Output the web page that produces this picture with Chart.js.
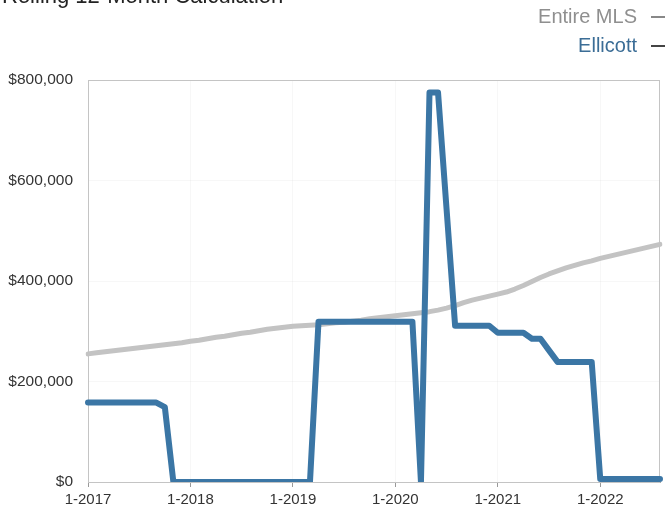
<!DOCTYPE html>
<html>
<head>
<meta charset="utf-8">
<script src="https://cdn.jsdelivr.net/npm/chart.js@4/dist/chart.umd.min.js"></script>
<style>
  html, body { margin: 0; padding: 0; background: #fff; }
  #wrap { position: relative; width: 670px; height: 507px; overflow: hidden;
          font-family: "Liberation Sans", Arial, sans-serif; }
  #title { position: absolute; left: 2px; top: -15px; font-size: 22px; line-height: 22px;
           color: #222; white-space: nowrap; }
  #legend { position: absolute; right: 5px; top: 2px; }
  .item { display: flex; align-items: center; justify-content: flex-end; height: 29px; font-size: 20px; }
  .dash { display: inline-block; width: 14px; height: 2px; margin-left: 14px; }
  canvas { position: absolute; left: 0; top: 0; }
</style>
</head>
<body>
<div id="wrap">
  <canvas id="c" width="670" height="507"></canvas>
  <div id="title">Rolling 12-Month Calculation</div>
  <div id="legend"></div>
</div>
<script>
// Monthly periods, January 2017 through August 2022
const startYear = 2017;
const monthCount = 68;
const months = [];
for (let i = 0; i < monthCount; i++) {
  months.push(((i % 12) + 1) + '-' + (startYear + Math.floor(i / 12)));
}

// Rolling 12-month median sales price
const entireMLS = [
  255000, 257000, 259000, 261000, 263000, 265000, 267000, 269000, 271000, 273000, 275000, 277000,
  280000, 282000, 285000, 288000, 290000, 293000, 296000, 298000, 301000, 304000, 306000, 308000,
  310000, 311000, 312000, 313000, 315000, 317000, 318000, 320000, 322000, 325000, 327000, 329000,
  331000, 333000, 335000, 337000, 339000, 342000, 346000, 351000, 357000, 362000, 366000, 370000,
  374000, 378000, 384000, 391000, 399000, 407000, 414000, 420000, 426000, 431000, 436000, 440000,
  445000, 449000, 453000, 457000, 461000, 465000, 469000, 473000
];
const ellicott = [
  158000, 158000, 158000, 158000, 158000, 158000, 158000, 158000, 158000, 149000, 0, 0,
  0, 0, 0, 0, 0, 0, 0, 0, 0, 0, 0, 0,
  0, 0, 0, 319000, 319000, 319000, 319000, 319000, 319000, 319000, 319000, 319000,
  319000, 319000, 319000, 0, 775000, 775000, 543000, 311000, 311000, 311000, 311000, 311000,
  297000, 297000, 297000, 297000, 285000, 285000, 262000, 239000, 239000, 239000, 239000, 239000,
  6000, 6000, 6000, 6000, 6000, 6000, 6000, 6000
];
const yTicks = [0, 200000, 400000, 600000, 800000];

const seriesNames = ['Entire MLS', 'Ellicott'];
const lineColors = ['#c3c3c3', '#3b76a5'];
const legendTextColors = ['#8f8f8f', '#3b6d96'];
const dashColors = ['#888', '#444'];

// Legend: label text followed by a short rule, right aligned
const legend = document.getElementById('legend');
seriesNames.forEach((name, k) => {
  const row = document.createElement('div');
  row.className = 'item';
  const txt = document.createElement('span');
  txt.textContent = name;
  txt.style.color = legendTextColors[k];
  const dash = document.createElement('span');
  dash.className = 'dash';
  dash.style.background = dashColors[k];
  row.appendChild(txt);
  row.appendChild(dash);
  legend.appendChild(row);
});

// Light frame around the plot area
const frame = {
  id: 'frame',
  beforeDatasetsDraw(chart) {
    const { ctx, chartArea: a } = chart;
    ctx.save();
    ctx.strokeStyle = '#c4c4c4';
    ctx.lineWidth = 1;
    ctx.strokeRect(Math.round(a.left) + 0.5, Math.round(a.top) + 0.5,
                   Math.round(a.right - a.left) - 1, Math.round(a.bottom - a.top));
    ctx.restore();
  }
};

const yearOnly = (ctx, on, off) => (ctx.index % 12 === 0 ? on : off);

new Chart(document.getElementById('c'), {
  type: 'line',
  data: {
    labels: months,
    datasets: [
      {
        label: seriesNames[0], data: entireMLS, order: 1,
        borderColor: lineColors[0], borderWidth: 5,
        pointRadius: 0, tension: 0, borderJoinStyle: 'round', borderCapStyle: 'round'
      },
      {
        label: seriesNames[1], data: ellicott, order: 0,
        borderColor: lineColors[1], borderWidth: 6,
        pointRadius: 0, tension: 0, borderJoinStyle: 'round', borderCapStyle: 'round'
      }
    ]
  },
  options: {
    responsive: false,
    animation: false,
    layout: { padding: { top: 80, right: 10, left: 0, bottom: 0 } },
    plugins: { legend: { display: false }, tooltip: { enabled: false } },
    scales: {
      x: {
        type: 'category',
        offset: false,
        afterFit: s => { s.height = 25; },
        grid: {
          color: ctx => yearOnly(ctx, 'rgba(0,0,0,0.03)', 'rgba(0,0,0,0)'),
          tickColor: ctx => yearOnly(ctx, '#999', 'rgba(0,0,0,0)'),
          tickLength: 5
        },
        border: { color: '#a8a8a8' },
        ticks: {
          autoSkip: false, maxRotation: 0, minRotation: 0, padding: 4,
          color: '#333', font: { family: 'Liberation Sans', size: 15 },
          callback: (v, i) => (i % 12 === 0 ? months[i] : '')
        }
      },
      y: {
        min: 0, max: 800000,
        afterBuildTicks: s => { s.ticks = yTicks.map(v => ({ value: v })); },
        afterFit: s => { s.width = 88; },
        grid: { color: 'rgba(0,0,0,0.03)', drawTicks: false },
        border: { color: '#a8a8a8' },
        ticks: {
          padding: 15, color: '#333', font: { family: 'Liberation Sans', size: 15.5 },
          callback: v => '$' + Number(v).toLocaleString('en-US')
        }
      }
    }
  },
  plugins: [frame]
});
</script>
</body>
</html>
